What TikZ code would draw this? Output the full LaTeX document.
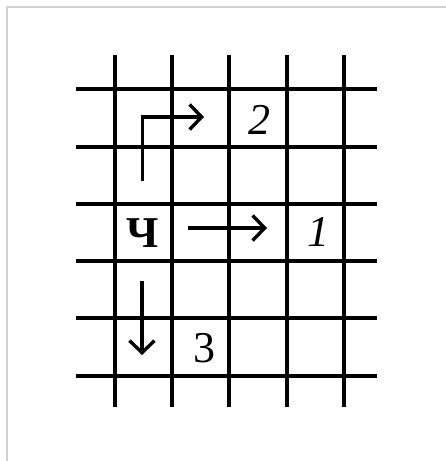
\documentclass[tikz,border=0pt]{standalone}
\usepackage{fontspec}
\setmainfont{Liberation Serif}
\usetikzlibrary{arrows.meta}
\begin{document}
\begin{tikzpicture}[x=1pt,y=-1pt,
  gridline/.style={line width=4.2pt,black},
  arrowline/.style={line width=3.4pt,black,-{Straight Barb[length=12pt,width=25pt,line width=3.4pt]}},
  lbl/.style={font=\fontsize{44}{44}\selectfont,inner sep=0pt},
  frame/.style={draw=black!18,line width=1.4pt}]
\useasboundingbox (0,0) rectangle (446,461);
\fill[white] (0,0) rectangle (446,461);
\draw[frame] (7,461) -- (7,7) -- (446,7);
% grid
\foreach \x in {115,172,229,287,344} \draw[gridline] (\x,55) -- (\x,407);
\foreach \y in {89,147,204,261,318,376} \draw[gridline] (76,\y) -- (377,\y);
% labels
\node[lbl,font=\fontsize{44}{44}\selectfont\bfseries] (ch) at (143,233) {Ч};
\node[lbl,font=\fontsize{44}{44}\selectfont\itshape] (two) at (259,120) {2};
\node[lbl,font=\fontsize{44}{44}\selectfont\itshape] (one) at (318,232) {1};
\node[lbl] (three) at (204,348) {3};
% arrows
\coordinate (a1s) at (142.5,181);
\coordinate (a1c) at (142.5,117);
\coordinate (a1e) at (204,117);
\draw[arrowline] (a1s) -- (a1c) -- (a1e);
\coordinate (a2s) at (188,228);
\coordinate (a2e) at (267,228);
\draw[arrowline] (a2s) -- (a2e);
\coordinate (a3s) at (142,281);
\coordinate (a3e) at (142,355);
\draw[arrowline] (a3s) -- (a3e);
\end{tikzpicture}
\end{document}
